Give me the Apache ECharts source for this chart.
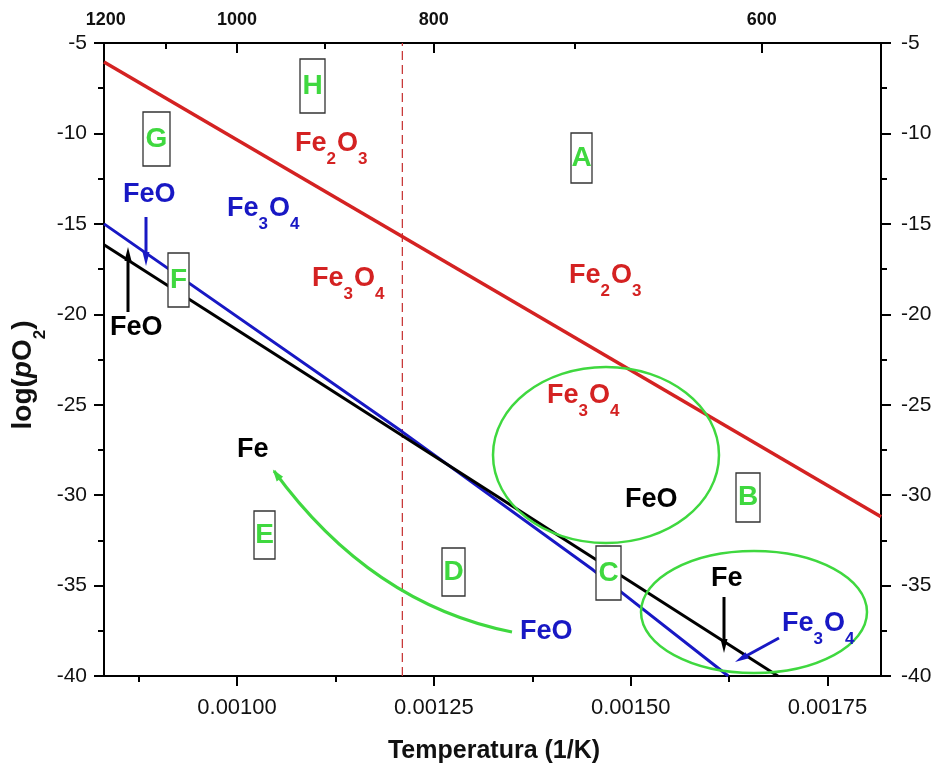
<!DOCTYPE html>
<html><head><meta charset="utf-8">
<script src="https://cdn.jsdelivr.net/npm/echarts@6/dist/echarts.min.js"></script>
<style>html,body{margin:0;padding:0;background:#fff}#c{width:934px;height:769px}</style>
</head><body><div id="c"></div>
<script>
// ---- axis ranges & ticks ----
const xMin = 0.000831, xMax = 0.001818;
const yMin = -40, yMax = -5;
const bottomMajor = [0.00100, 0.00125, 0.00150, 0.00175];
const bottomMinor = [0.000875, 0.001125, 0.001375, 0.001625];
const topLabelTemps = [1200, 1000, 800, 600];
const topMinorTemps = [1100, 900, 700];
// ---- series values (x = 1/T, y = log pO2) ----
const redX = [0.000831, 0.001818];
const redY = [-6.05, -31.2];
const blueX = [0.000831, 0.00121, 0.001452, 0.001624];
const blueY = [-15.0, -26.5, -34.13, -40];
const blackX = [0.000831, 0.001687];
const blackY = [-16.15, -40];
const dashedX = [0.00121, 0.00121];
const dashedY = [-40, -5];

// ---- annotations (pixel layout) ----
const redTexts = [['Fe2O3',295,153],['Fe3O4',312,288],['Fe2O3',569,285],['Fe3O4',547,405]];
const blueTexts = [['Fe3O4',227,218],['FeO',123,204],['FeO',520,641],['Fe3O4',782,633]];
const blackTexts = [['FeO',625,509],['FeO',110,337],['Fe',237,459],['Fe',711,588]];
const boxes = [['G',143,112,27,54],['H',300,59,25,54],['A',571,133,21,50],['F',168,253,21,54],
               ['E',254,511,21,48],['D',442,548,23,48],['C',596,546,25,54],['B',736,473,24,49]];
const ellipses = [[606,455,113,88],[754,612,113,61]];
const arrows = [[146,217,146,266,'blue'],[128,312,128,247,'black'],[724,597,724,653,'black'],[779,638,735,662,'blue']];

const FONT = '"Liberation Sans", Arial, Helvetica, sans-serif';
const RED = '#d42222', BLUE = '#1818c4', BLACK = '#000000', GREEN = '#3fd83f';
const zip = (a, b) => a.map((v, i) => [v, b[i]]);

const chart = echarts.init(document.getElementById('c'), null, {renderer: 'canvas'});

const baseX = {type: 'value', min: xMin, max: xMax, gridIndex: 0, splitLine: {show: false}};
const option = {
  animation: false,
  backgroundColor: '#fff',
  grid: {left: 104, top: 43, width: 777, height: 633, containLabel: false, outerBoundsMode: 'none'},
  xAxis: [
    Object.assign({}, baseX, {
      position: 'bottom',
      axisLine: {show: true, onZero: false, lineStyle: {color: '#000', width: 2}},
      axisTick: {show: true, length: 10, inside: false, customValues: bottomMajor, lineStyle: {width: 2, color: '#000'}},
      axisLabel: {show: true, customValues: bottomMajor, margin: 21, fontSize: 22, fontFamily: FONT, color: '#111',
        formatter: v => v.toFixed(5)}
    }),
    Object.assign({}, baseX, {
      position: 'bottom',
      axisLine: {show: false},
      axisTick: {show: true, length: 6, inside: false, customValues: bottomMinor, lineStyle: {width: 2, color: '#000'}},
      axisLabel: {show: false}
    }),
    Object.assign({}, baseX, {
      position: 'top',
      axisLine: {show: true, onZero: false, lineStyle: {color: '#000', width: 2}},
      axisTick: {show: true, length: 10, inside: true, customValues: topLabelTemps.slice(1).map(t => 1 / t), lineStyle: {width: 2, color: '#000'}},
      axisLabel: {show: true, customValues: topLabelTemps.map(t => 1 / t), margin: 14, fontSize: 18, fontWeight: 'bold',
        fontFamily: FONT, color: '#111', formatter: v => String(Math.round(1 / v))}
    }),
    Object.assign({}, baseX, {
      position: 'top',
      axisLine: {show: false},
      axisTick: {show: true, length: 6, inside: true, customValues: topMinorTemps.map(t => 1 / t), lineStyle: {width: 2, color: '#000'}},
      axisLabel: {show: false}
    })
  ],
  yAxis: [
    {
      type: 'value', position: 'left', min: yMin, max: yMax, interval: 5, splitLine: {show: false},
      axisLine: {show: true, onZero: false, lineStyle: {color: '#000', width: 2}},
      axisTick: {show: true, length: 10, inside: false, lineStyle: {width: 2, color: '#000'}},
      minorTick: {show: true, splitNumber: 2, length: 6, lineStyle: {width: 2, color: '#000'}},
      minorSplitLine: {show: false},
      axisLabel: {margin: 17, fontSize: 21, fontFamily: FONT, color: '#111'}
    },
    {
      type: 'value', position: 'right', min: yMin, max: yMax, interval: 5, splitLine: {show: false},
      axisLine: {show: true, onZero: false, lineStyle: {color: '#000', width: 2}},
      axisTick: {show: true, length: 10, inside: false, lineStyle: {width: 2, color: '#000'}},
      minorTick: {show: true, splitNumber: 2, length: 6, lineStyle: {width: 2, color: '#000'}},
      minorSplitLine: {show: false},
      axisLabel: {margin: 20, fontSize: 21, fontFamily: FONT, color: '#111'}
    }
  ],
  series: [
    {type: 'line', name: 'dashed', xAxisIndex: 0, yAxisIndex: 0, data: zip(dashedX, dashedY), showSymbol: false,
      lineStyle: {color: '#c83a3a', width: 1.3, type: [9, 5]}, silent: true, z: 1},
    {type: 'line', name: 'FeO/Fe3O4', xAxisIndex: 0, yAxisIndex: 0, data: zip(blueX, blueY), showSymbol: false,
      lineStyle: {color: BLUE, width: 3}, clip: true, z: 2},
    {type: 'line', name: 'Fe/FeO', xAxisIndex: 0, yAxisIndex: 0, data: zip(blackX, blackY), showSymbol: false,
      lineStyle: {color: BLACK, width: 3}, clip: true, z: 3},
    {type: 'line', name: 'Fe3O4/Fe2O3', xAxisIndex: 0, yAxisIndex: 0, data: zip(redX, redY), showSymbol: false,
      lineStyle: {color: RED, width: 3.5}, clip: true, z: 4}
  ]
};
chart.setOption(option);

// ---------- annotation graphics ----------
const mctx = document.createElement('canvas').getContext('2d');
function tw(s, font) { mctx.font = font; return mctx.measureText(s).width; }

function formula(str, x, baseline, color, fs) {
  const subFs = Math.round(fs * 0.63);
  const parts = str.match(/[A-Za-z]+|\d/g);
  const els = [];
  let cx = x;
  parts.forEach(p => {
    const isSub = /^\d$/.test(p);
    const size = isSub ? subFs : fs;
    const font = `bold ${size}px ${FONT}`;
    const bl = isSub ? baseline + fs * 0.47 : baseline;
    els.push({type: 'text', x: cx, y: bl - 0.358 * size, z: 100,
      style: {text: p, font: font, fill: color, align: 'left', verticalAlign: 'middle'}});
    cx += tw(p, font) + (isSub ? 1 : 0);
  });
  return els;
}

function arrow(x1, y1, x2, y2, color, w, hl, hw) {
  const dx = x2 - x1, dy = y2 - y1, L = Math.hypot(dx, dy), ux = dx / L, uy = dy / L;
  const bx = x2 - ux * hl, by = y2 - uy * hl;
  return [
    {type: 'line', z: 100, shape: {x1: x1, y1: y1, x2: bx + ux * 2, y2: by + uy * 2}, style: {stroke: color, lineWidth: w}},
    {type: 'polygon', z: 100, shape: {points: [[x2, y2], [bx - uy * hw / 2, by + ux * hw / 2], [bx + uy * hw / 2, by - ux * hw / 2]]},
      style: {fill: color}}
  ];
}

const g = [];
redTexts.forEach(t => g.push(...formula(t[0], t[1], t[2], RED, 27)));
blueTexts.forEach(t => g.push(...formula(t[0], t[1], t[2], BLUE, 27)));
blackTexts.forEach(t => g.push(...formula(t[0], t[1], t[2], BLACK, 27)));

boxes.forEach(b => {
  g.push({type: 'rect', z: 100, shape: {x: b[1], y: b[2], width: b[3], height: b[4]},
    style: {fill: '#ffffff', stroke: '#333', lineWidth: 1.3}});
  g.push({type: 'text', z: 101, x: b[1] + b[3] / 2, y: b[2] + b[4] / 2,
    style: {text: b[0], font: `bold 28px ${FONT}`, fill: GREEN, align: 'center', verticalAlign: 'middle'}});
});

ellipses.forEach(e => g.push({type: 'ellipse', z: 90, shape: {cx: e[0], cy: e[1], rx: e[2], ry: e[3]},
  style: {fill: 'rgba(0,0,0,0)', stroke: GREEN, lineWidth: 2.5}}));

arrows.forEach(a => g.push(...arrow(a[0], a[1], a[2], a[3], a[4] === 'blue' ? BLUE : BLACK, 3, 14, 7)));

// green curved arrow
const cs = [512, 632], ce = [274, 471], cc = [371, 604];
g.push({type: 'bezierCurve', z: 90, shape: {x1: cs[0], y1: cs[1], x2: ce[0], y2: ce[1], cpx1: cc[0], cpy1: cc[1]},
  style: {stroke: GREEN, lineWidth: 3, fill: null}});
(function () {
  const dx = ce[0] - cc[0], dy = ce[1] - cc[1], L = Math.hypot(dx, dy), ux = dx / L, uy = dy / L;
  const hl = 10, hw = 8, bx = ce[0] - ux * hl, by = ce[1] - uy * hl;
  g.push({type: 'polygon', z: 91, shape: {points: [[ce[0] + ux * 2, ce[1] + uy * 2], [bx - uy * hw / 2, by + ux * hw / 2], [bx + uy * hw / 2, by - ux * hw / 2]]},
    style: {fill: GREEN}});
})();

// x axis title
g.push({type: 'text', z: 100, x: 494, y: 751,
  style: {text: 'Temperatura (1/K)', font: `bold 25px ${FONT}`, fill: '#111', align: 'center', verticalAlign: 'middle'}});

// y axis title: log(pO2), rotated
(function () {
  const fs = 28, sfs = 17;
  const parts = [
    {t: 'log(', font: `bold ${fs}px ${FONT}`, dy: 0},
    {t: 'p', font: `italic bold ${fs}px ${FONT}`, dy: 0},
    {t: 'O', font: `bold ${fs}px ${FONT}`, dy: 0},
    {t: '2', font: `bold ${sfs}px ${FONT}`, dy: fs * 0.47 - 0.358 * sfs + 0.358 * fs},
    {t: ')', font: `bold ${fs}px ${FONT}`, dy: 0}
  ];
  const widths = parts.map(p => tw(p.t, p.font));
  const W = widths.reduce((a, b) => a + b, 0);
  let cx = -W / 2;
  const children = parts.map((p, i) => {
    const el = {type: 'text', x: cx, y: p.dy, style: {text: p.t, font: p.font, fill: '#111', align: 'left', verticalAlign: 'middle'}};
    cx += widths[i];
    return el;
  });
  g.push({type: 'group', x: 23, y: 375, rotation: Math.PI / 2, z: 100, children: children});
})();

chart.setOption({graphic: {elements: g}});
</script>
</body></html>
